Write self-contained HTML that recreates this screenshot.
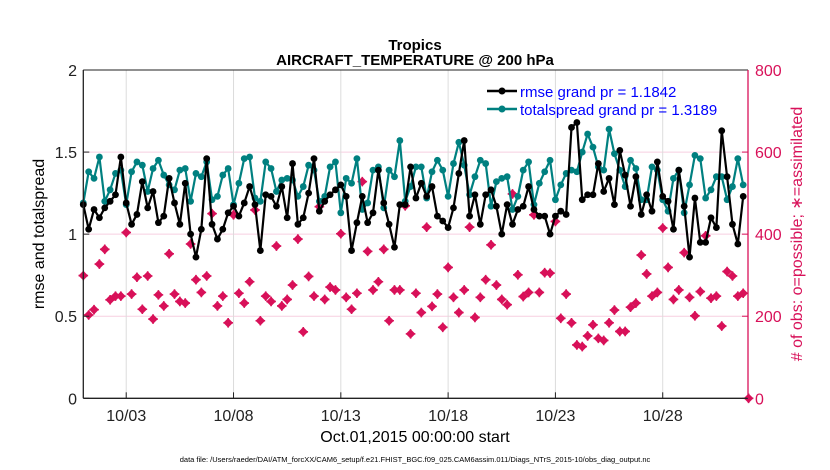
<!DOCTYPE html>
<html><head><meta charset="utf-8"><style>
body{margin:0;background:#fff;}
svg{display:block;font-family:"Liberation Sans",sans-serif;}
</style></head><body>
<svg id="chart" width="830" height="470" viewBox="0 0 830 470" xmlns="http://www.w3.org/2000/svg">
<rect x="0" y="0" width="830" height="470" fill="#fff"/>
<g id="grid"></g>
<g id="series"></g>
<g id="axes"></g>
<text x="415" y="50" text-anchor="middle" font-size="15" font-weight="bold">Tropics</text>
<text x="415" y="65" text-anchor="middle" font-size="15" font-weight="bold">AIRCRAFT_TEMPERATURE @ 200 hPa</text>
<text x="415" y="442" text-anchor="middle" font-size="16">Oct.01,2015 00:00:00 start</text>
<text transform="translate(44,234) rotate(-90)" text-anchor="middle" font-size="16">rmse and totalspread</text>
<text transform="translate(802,234) rotate(-90)" text-anchor="middle" font-size="16" fill="#d81159"># of obs: o=possible; ∗=assimilated</text>
<text x="415" y="462" text-anchor="middle" font-size="7.5">data file: /Users/raeder/DAI/ATM_forcXX/CAM6_setup/f.e21.FHIST_BGC.f09_025.CAM6assim.011/Diags_NTrS_2015-10/obs_diag_output.nc</text>
<g>
<g>
<line x1="487" y1="91" x2="517" y2="91" stroke="#000" stroke-width="2.5"/>
<circle cx="502" cy="91" r="3.5" fill="#000"/>
<text x="520" y="97" font-size="15" fill="#0000ff">rmse grand pr = 1.1842</text>
</g>
<g>
<line x1="487" y1="109" x2="517" y2="109" stroke="#008080" stroke-width="2.5"/>
<circle cx="502" cy="109" r="3.5" fill="#008080"/>
<text x="520" y="115" font-size="15" fill="#0000ff">totalspread grand pr = 1.3189</text>
</g>
</g>
</svg>
<script>
const rmse = [1.18,1.03,1.15,1.10,
1.16,1.2,1.24,1.47,1.19,1.06,1.12,1.32,1.16,1.26,1.07,1.11,1.34,1.19,1.06,1.31,1.0,0.86,1.03,1.46,1.06,0.97,1.03,1.13,1.17,1.11,1.19,1.29,1.18,0.9,1.24,1.23,1.17,1.29,1.1,1.43,1.06,1.1,1.25,1.46,1.14,
1.2,1.24,1.27,1.3,1.23,0.9,1.07,1.23,1.07,1.13,1.39,1.19,1.06,0.92,1.18,1.18,1.41,1.22,1.31,1.23,1.29,1.11,1.08,1.04,1.16,1.37,1.57,1.11,1.24,1.06,1.24,1.27,1.17,1.0,1.18,1.06,1.15,1.17,1.29,
1.15,1.11,1.11,1.0,1.11,1.14,1.12,1.65,1.68,1.21,1.24,1.24,1.43,1.26,1.34,1.18,1.51,1.36,1.17,1.35,1.12,1.24,1.14,1.44,1.23,1.2,1.03,1.39,1.17,0.86,1.22,0.95,0.95,1.1,1.04,1.63,1.35,1.06,0.94,1.23];
const spread = [1.19,1.38,1.34,1.47,
1.2,1.27,1.37,1.39,1.18,1.38,1.44,1.42,1.26,1.4,1.45,1.36,1.3,1.27,1.39,1.4,1.2,1.37,1.35,1.44,1.21,1.23,1.36,1.4,1.18,1.31,1.46,1.47,1.22,1.2,1.44,1.4,1.26,1.33,1.34,1.33,1.23,1.29,1.42,1.39,1.2,
1.23,1.41,1.44,1.13,1.34,1.31,1.46,1.15,1.19,1.39,1.41,1.16,1.39,1.35,1.57,1.2,1.29,1.41,1.41,1.22,1.38,1.45,1.39,1.23,1.43,1.56,1.42,1.24,1.35,1.45,1.43,1.17,1.32,1.34,1.35,1.15,1.23,1.39,1.44,
1.18,1.31,1.38,1.45,1.21,1.3,1.37,1.39,1.38,1.5,1.61,1.53,1.41,1.39,1.64,1.49,1.39,1.29,1.45,1.4,1.21,1.21,1.41,1.39,1.21,1.14,1.34,1.39,1.13,1.3,1.48,1.46,1.22,1.27,1.35,1.35,1.21,1.29,1.46,1.3];
const obsCount = [299,203,216,327,
363,240,249,249,404,254,295,217,298,193,252,225,352,254,236,232,376,289,258,298,450,225,249,184,447,256,232,284,459,189,249,236,371,225,241,276,388,162,297,249,467,
241,271,264,401,246,217,256,528,358,264,284,363,189,264,264,469,157,256,209,417,224,254,173,319,246,209,264,417,197,246,289,374,276,241,228,498,301,248,258,
447,258,306,305,431,195,254,184,130,126,152,179,146,141,184,215,163,163,222,232,349,303,249,258,415,319,241,264,355,246,201,260,396,244,249,176,309,298,249,256,0];
const leftTicks = [0,0.5,1,1.5,2];
const rightTicks = [0,200,400,600,800];
const dateTickDays = [2,7,12,17,22,27];
const dateTickLabels = ["10/03","10/08","10/13","10/18","10/23","10/28"];
const stepDays = 0.25;

const NS="http://www.w3.org/2000/svg";
const L=83.3,R=748,T=70,B=398.3;
const xDay=d=>L+d*21.46;
const yL=v=>B-(v/2)*(B-T);
const yR=v=>B-(v/800)*(B-T);
function mk(tag,attrs,parent){const e=document.createElementNS(NS,tag);for(const k in attrs)e.setAttribute(k,attrs[k]);parent.appendChild(e);return e;}
const gridG=document.getElementById('grid'),axesG=document.getElementById('axes'),serG=document.getElementById('series');

[0.5,1,1.5].forEach(v=>{
 const g=mk('line',{x1:L,x2:R,y1:yL(v),y2:yL(v),stroke:'#f7cfe0','stroke-width':1},gridG);
 
 
});
dateTickDays.forEach((d,i)=>{
 const g=mk('line',{x1:xDay(d),x2:xDay(d),y1:T,y2:B,stroke:'#dcdcdc','stroke-width':1},gridG);
 
 
 const t=mk('line',{x1:xDay(d),x2:xDay(d),y1:B,y2:B-6,stroke:'#222','stroke-width':1},axesG);
 
 
 const tx=mk('text',{x:xDay(d),y:421,'text-anchor':'middle','font-size':16,fill:'#222'},axesG);
 tx.textContent=dateTickLabels[i];
 
 
});
leftTicks.forEach(v=>{
 const t=mk('line',{x1:L,x2:L+6,y1:yL(v),y2:yL(v),stroke:'#222'},axesG);
 
 
 const tx=mk('text',{x:77,y:yL(v)+6,'text-anchor':'end','font-size':16,fill:'#222'},axesG);
 tx.textContent=String(v);
 
 
});
rightTicks.forEach(v=>{
 const t=mk('line',{x1:R,x2:R-6,y1:yR(v),y2:yR(v),stroke:'#d81159'},axesG);
 
 
 const tx=mk('text',{x:755,y:yR(v)+6,'font-size':16,fill:'#d81159'},axesG);
 tx.textContent=String(v);
 
 
});
const topBorder=mk('line',{x1:L,x2:R,y1:T,y2:T,stroke:'#222','stroke-width':1},axesG);


const xa=mk('line',{x1:L,x2:R,y1:B,y2:B,stroke:'#222','stroke-width':1.3},axesG);


const ya=mk('line',{x1:L,x2:L,y1:T,y2:B,stroke:'#222','stroke-width':1.3},axesG);


const ra=mk('line',{x1:R,x2:R,y1:T,y2:B,stroke:'#d81159','stroke-width':1.3},axesG);



obsCount.forEach((c,i)=>{
 const x=xDay(i*stepDays),y=yR(c),s=4.8;
 const g=mk('g',{},serG);
 
 
 mk('polygon',{points:`${x},${y-s} ${x+s},${y} ${x},${y+s} ${x-s},${y}`,fill:'#d81159'},g);
 mk('path',{d:`M${x-s} ${y}H${x+s}M${x} ${y-s}V${y+s}`,stroke:'#d81159','stroke-width':1.6},g);
});
function drawLine(vals,color,name){
 const pts=vals.map((v,i)=>xDay(i*stepDays).toFixed(2)+','+yL(v).toFixed(2)).join(' ');
 const pl=mk('polyline',{points:pts,fill:'none',stroke:color,'stroke-width':2.2,'stroke-linejoin':'round'},serG);
 
 
 vals.forEach((v,i)=>{
  const c=mk('circle',{cx:xDay(i*stepDays),cy:yL(v),r:3.4,fill:color},serG);
  
  
 });
}
drawLine(spread,'#008080','totalspread');
drawLine(rmse,'#000000','rmse');
</script>
</body></html>
